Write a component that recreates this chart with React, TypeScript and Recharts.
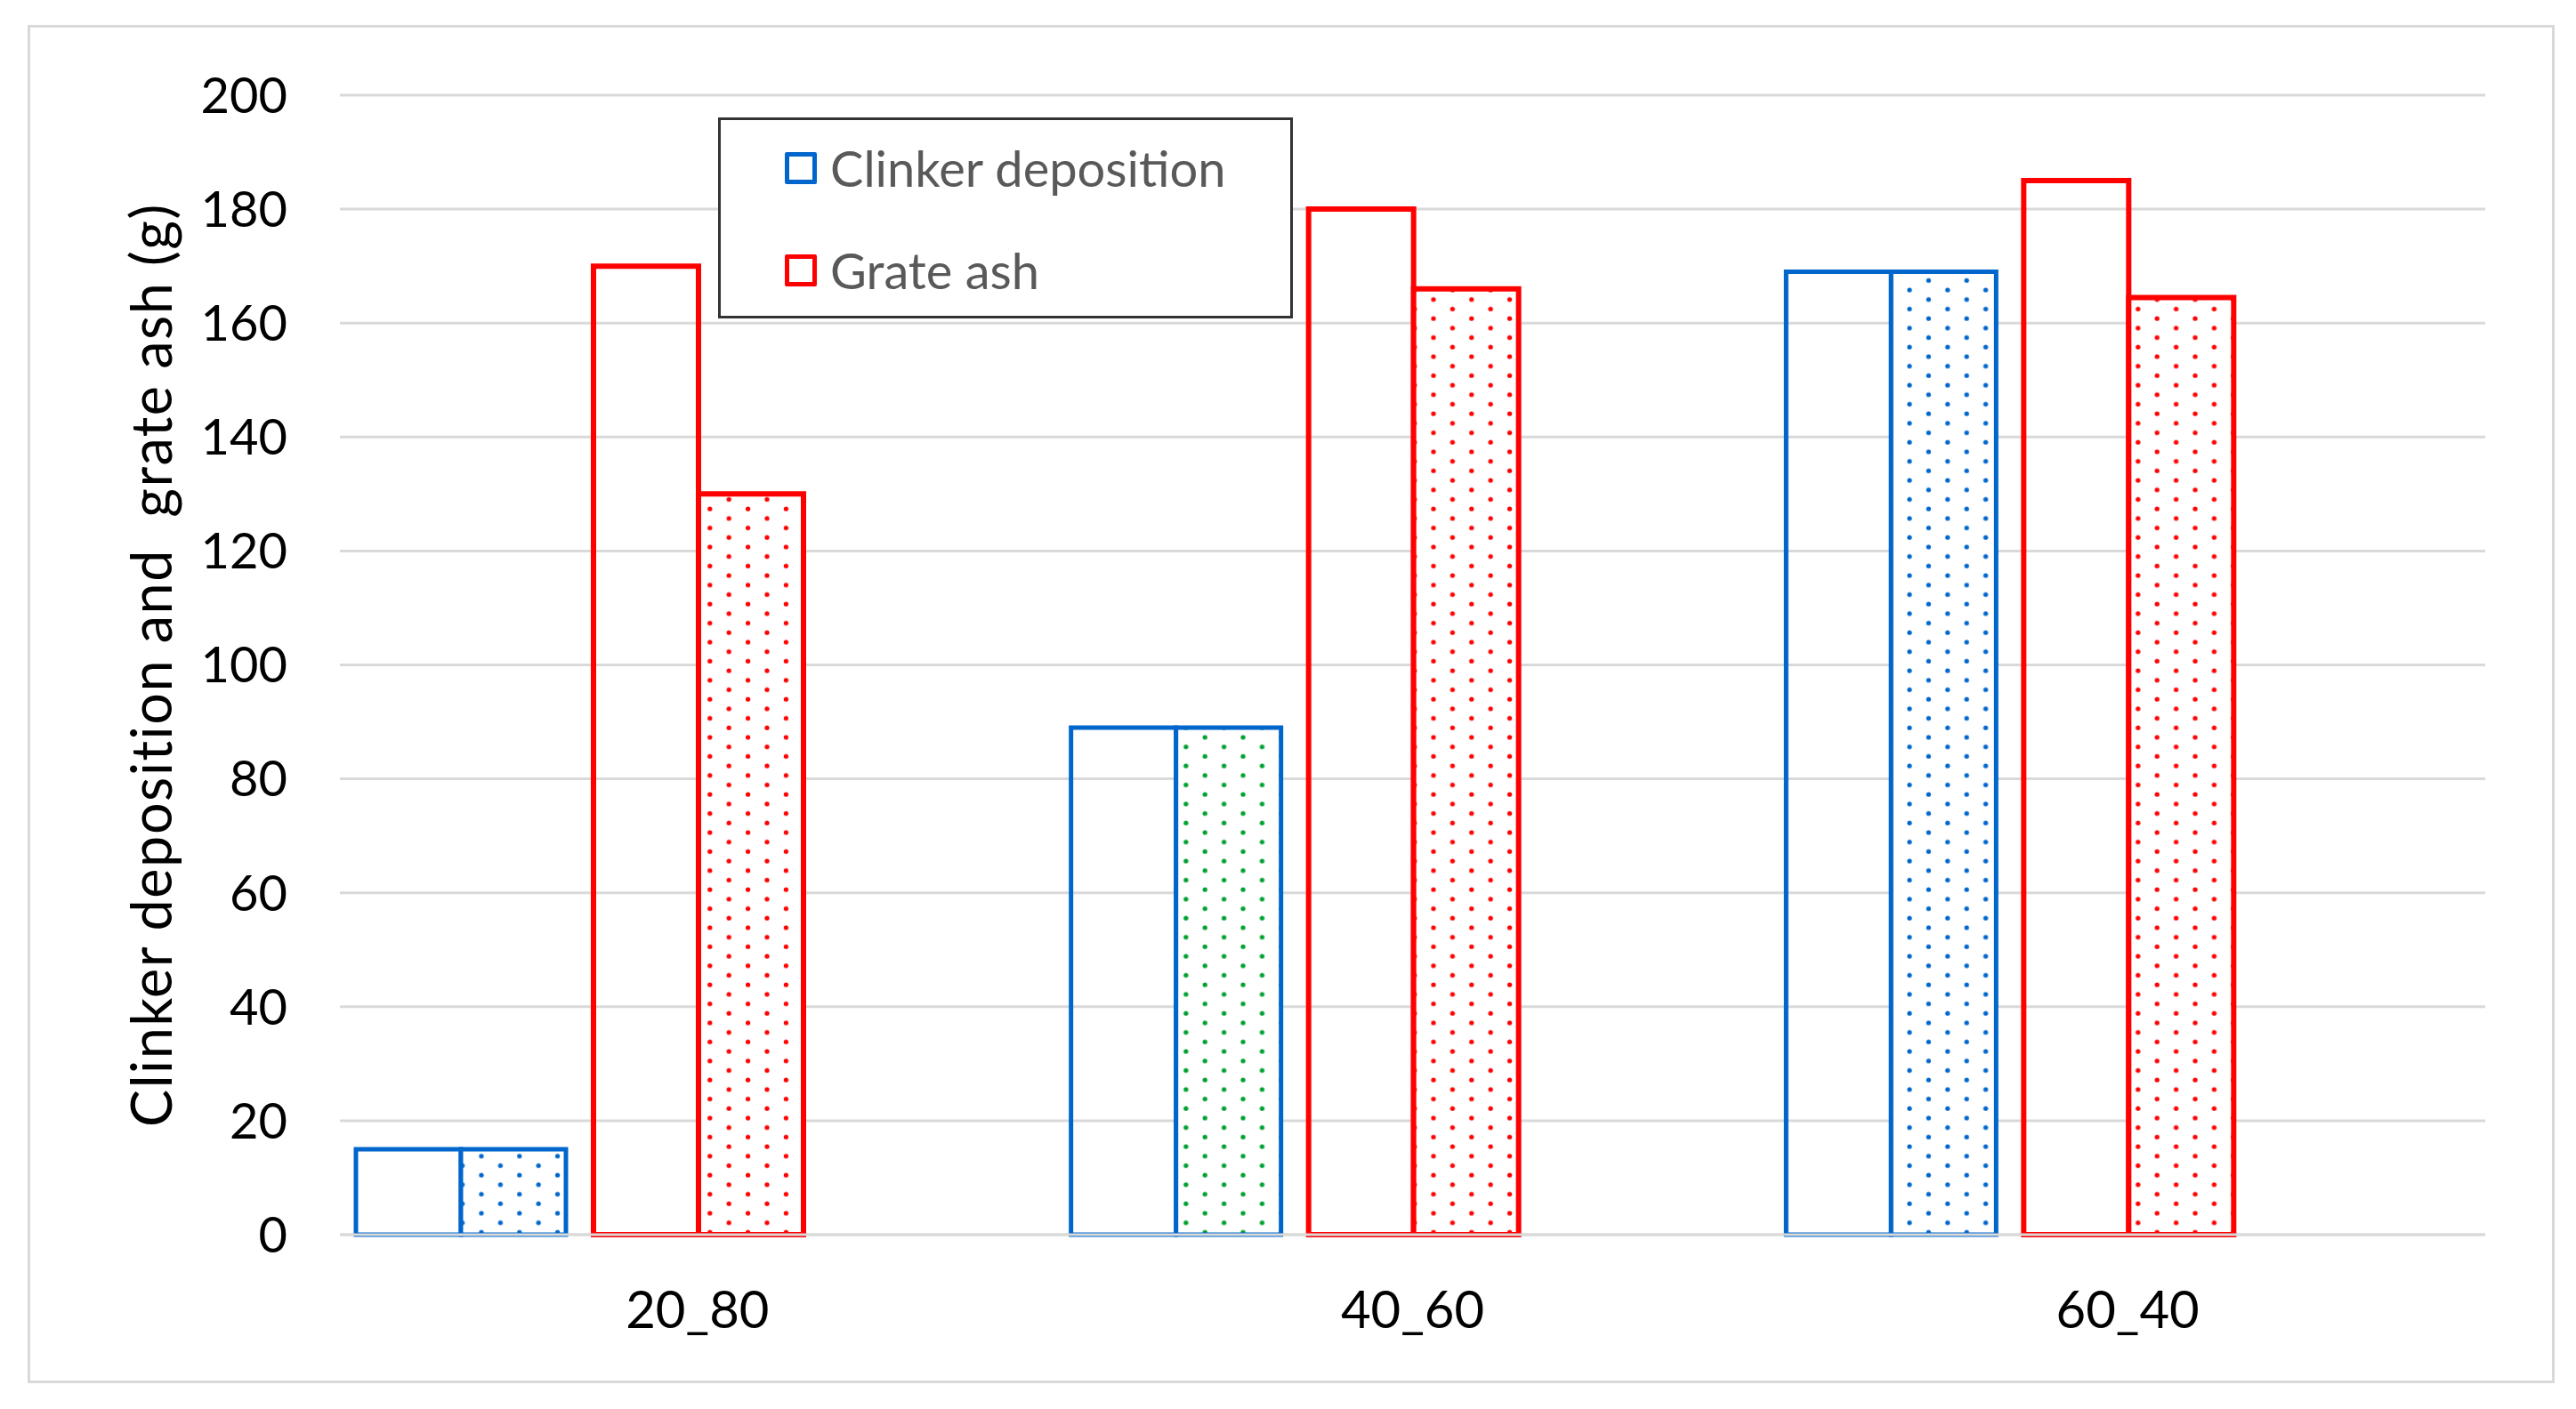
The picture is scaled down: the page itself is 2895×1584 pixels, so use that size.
import React from 'react';
import { BarChart, Bar, XAxis, YAxis, CartesianGrid, Legend, Cell } from 'recharts';

// ---- data ----
const categories = ['20_80', '40_60', '60_40'];
const clinkerOutline = [15, 89, 169];
const clinkerDotted = [15, 89, 169];
const grateOutline = [170, 180, 185];
const grateDotted = [130, 166, 164.5];
const clinkerDotPatterns = ['dotsBlue', 'dotsGreen', 'dotsBlue'];
const yTicks = [0, 20, 40, 60, 80, 100, 120, 140, 160, 180, 200];
const seriesNames = ['Clinker deposition', 'Grate ash'];

const data = categories.map((c, i) => ({
  category: c,
  clinkerOutline: clinkerOutline[i],
  clinkerDotted: clinkerDotted[i],
  grateOutline: grateOutline[i],
  grateDotted: grateDotted[i],
}));

const BLUE = '#0066cc';
const RED = '#ff0000';
const GREEN = '#00a030';
const GRID = '#d9d9d9';
const FONT = 'Lato, "Open Sans", sans-serif';

const DotPattern = ({ id, color }: { id: string; color: string }) => (
  <pattern id={id} patternUnits="userSpaceOnUse" width={42.8} height={21.4}>
    <rect x={0} y={0} width={42.8} height={21.4} fill="#ffffff" />
    <circle cx={6} cy={5} r={2.6} fill={color} />
    <circle cx={27.4} cy={15.7} r={2.6} fill={color} />
  </pattern>
);

const renderLegend = (props: any) => {
  const items = (props.payload || []).filter((p: any) => p.type !== 'none');
  return (
    <div style={{ marginTop: -4 }}>
      {items.map((entry: any, i: number) => {
        const col = entry.payload?.stroke ?? entry.color;
        return (
          <div key={i} style={{ display: 'flex', alignItems: 'center', height: 115, paddingLeft: 72 }}>
            <span
              style={{
                display: 'inline-block',
                width: 36,
                height: 36,
                border: `5px solid ${col}`,
                boxSizing: 'border-box',
                borderRadius: 2,
              }}
            />
            <span style={{ marginLeft: 15, fontSize: 56, color: '#595959', fontFamily: FONT, lineHeight: 1 }}>
              {entry.value}
            </span>
          </div>
        );
      })}
    </div>
  );
};

const YTitle = (props: any) => {
  const vb = props.viewBox || {};
  const cx = 168;
  const cy = (vb.y ?? 0) + (vb.height ?? 0) / 2;
  return (
    <text
      x={cx}
      y={cy}
      transform={`rotate(-90, ${cx}, ${cy})`}
      textAnchor="middle"
      dominantBaseline="central"
      fontSize={63}
      letterSpacing={1.5}
      fontFamily={FONT}
      fill="#000000"
      style={{ whiteSpace: 'pre' }}
    >
      {'Clinker deposition and  grate ash (g)'}
    </text>
  );
};

export default function App() {
  return (
    <div style={{ position: 'absolute', left: 0, top: 0, width: 2895, height: 1584, background: '#ffffff' }}>
      <div
        style={{
          position: 'absolute',
          left: 31,
          top: 28,
          width: 2840,
          height: 1527,
          border: `3px solid ${GRID}`,
          boxSizing: 'border-box',
        }}
      />
      <div style={{ position: 'absolute', left: 0, top: 0 }}>
        <BarChart
          width={2895}
          height={1584}
          data={data}
          margin={{ top: 107, right: 102, bottom: 0, left: 0 }}
          barGap={0}
        >
          <defs>
            <DotPattern id="dotsBlue" color={BLUE} />
            <DotPattern id="dotsGreen" color={GREEN} />
            <DotPattern id="dotsRed" color={RED} />
          </defs>
          <CartesianGrid vertical={false} stroke={GRID} strokeWidth={3} />
          <XAxis
            dataKey="category"
            height={196}
            axisLine={{ stroke: GRID, strokeWidth: 3 }}
            tickLine={false}
            tickSize={0}
            tickMargin={64}
            tick={{ fill: '#000000', fontSize: 58, fontFamily: FONT }}
          />
          <YAxis
            width={382}
            domain={[0, 200]}
            ticks={yTicks}
            axisLine={false}
            tickLine={false}
            tickSize={0}
            tickMargin={59}
            tick={{ fill: '#000000', fontSize: 56, fontFamily: FONT }}
            label={{ content: YTitle }}
          />
          <Legend
            layout="horizontal"
            verticalAlign="middle"
            align="center"
            content={renderLegend}
            wrapperStyle={{
              left: 807,
              top: 132,
              width: 646,
              height: 226,
              border: '3px solid #333333',
              boxSizing: 'border-box',
              background: '#ffffff',
            }}
          />
          <Bar
            dataKey="clinkerOutline"
            name={seriesNames[0]}
            barSize={118}
            fill="none"
            stroke={BLUE}
            strokeWidth={5}
            isAnimationActive={false}
          />
          <Bar
            dataKey="clinkerDotted"
            barSize={118}
            stroke={BLUE}
            strokeWidth={5}
            legendType="none"
            isAnimationActive={false}
          >
            {clinkerDotPatterns.map((p, i) => (
              <Cell key={i} fill={`url(#${p})`} />
            ))}
          </Bar>
          <Bar dataKey="gapA" barSize={31} fill="none" legendType="none" isAnimationActive={false} />
          <Bar
            dataKey="grateOutline"
            name={seriesNames[1]}
            barSize={118}
            fill="none"
            stroke={RED}
            strokeWidth={6}
            isAnimationActive={false}
          />
          <Bar
            dataKey="grateDotted"
            barSize={118}
            fill="url(#dotsRed)"
            stroke={RED}
            strokeWidth={6}
            legendType="none"
            isAnimationActive={false}
          />
          <Bar dataKey="gapB" barSize={265} fill="none" legendType="none" isAnimationActive={false} />
        </BarChart>
      </div>
    </div>
  );
}
